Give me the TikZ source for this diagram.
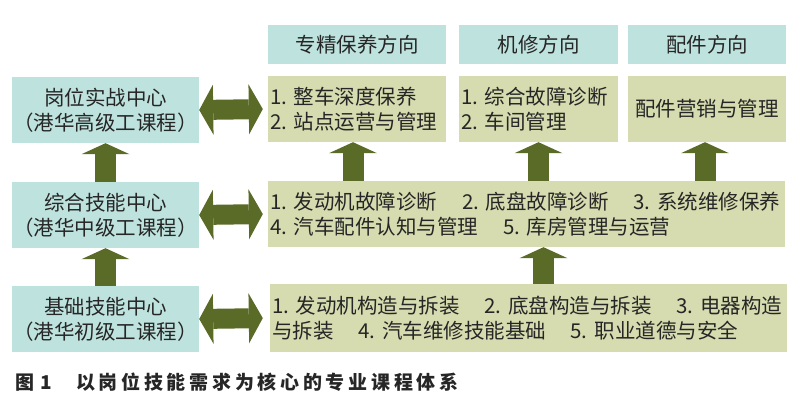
\documentclass[tikz,border=0pt]{standalone}
\usepackage{fontspec}
\setmainfont{Noto Sans CJK SC}
\usetikzlibrary{arrows.meta}
\definecolor{qing}{HTML}{BEE3DE}
\definecolor{ganlan}{HTML}{D6DCAF}
\definecolor{jiantou}{HTML}{5A6A27}
\definecolor{zi}{HTML}{262626}
\tikzset{
  kuang/.style={inner sep=0pt,text=zi,font=\fontsize{20.5}{25}\selectfont\frenchspacing},
  zhongxin/.style={kuang,fill=qing,minimum width=187pt,minimum height=66pt,align=center},
  fangxiang/.style={kuang,fill=qing,minimum height=39pt},
  kecheng/.style={kuang,fill=ganlan,minimum height=66pt,inner xsep=2pt,align=left},
  jt/.tip={Triangle[length=11pt 0 0,width=48pt 0 0,line width=0pt]},
  sjt/.tip={Triangle[length=14pt 0 0,width=50pt 0 0,line width=0pt]},
  shang/.style={jiantou,line width=21pt,-{jt}},
  shuang/.style={jiantou,line width=20pt,{sjt}-{sjt}}
}
\begin{document}
\begin{tikzpicture}[x=1pt,y=-1pt]
\useasboundingbox (0,0) rectangle (800,414);
% left column
\node[zhongxin] (gw) at (105.5,110) {岗位实战中心\\（港华高级工课程）};
\node[zhongxin] (zh) at (105.5,215) {综合技能中心\\（港华中级工课程）};
\node[zhongxin] (jc) at (105.5,319) {基础技能中心\\（港华初级工课程）};
% directions
\node[fangxiang,minimum width=178pt] (fx1) at (357,44.5) {专精保养方向};
\node[fangxiang,minimum width=159pt] (fx2) at (538.5,44.5) {机修方向};
\node[fangxiang,minimum width=158pt] (fx3) at (707,44.5) {配件方向};
% courses
\node[kecheng,text width=174pt] (kc1) at (357,109) {1. 整车深度保养\\2. 站点运营与管理};
\node[kecheng,text width=155pt] (kc2) at (538.5,109) {1. 综合故障诊断\\2. 车间管理};
\node[kecheng,text width=154pt,align=center] (kc3) at (707,109) {配件营销与管理};
\node[kecheng,text width=513pt] (kz) at (526.5,214) {1. 发动机故障诊断\hspace{1.2em}2. 底盘故障诊断\hspace{1.2em}3. 系统维修保养\\4. 汽车配件认知与管理\hspace{1.2em}5. 库房管理与运营};
\node[kecheng,text width=513pt,minimum height=68pt] (kj) at (528.5,318) {1. 发动机构造与拆装\hspace{1.2em}2. 底盘构造与拆装\hspace{1.2em}3. 电器构造\\与拆装\hspace{1.2em}4. 汽车维修技能基础\hspace{1.2em}5. 职业道德与安全};
% arrows
\draw[shang] (zh.north) -- (gw.south);
\draw[shang] (jc.north) -- (zh.south);
\draw[shuang,shorten >=5pt] (gw.east) -- (kc1.west);
\draw[shuang,shorten >=5pt] (zh.east) -- (kz.west);
\draw[shuang,shorten >=7pt] (jc.east) -- (kj.west);
\draw[shang] ([xshift=-4pt]kc1.south |- kz.north) -- ([xshift=-4pt]kc1.south);
\draw[shang] (kc2.south |- kz.north) -- (kc2.south);
\draw[shang] ([xshift=-2pt]kc3.south |- kz.north) -- ([xshift=-2pt]kc3.south);
\draw[shang] ([xshift=5pt]kc2.south |- kj.north) -- ([xshift=5pt]kc2.south |- kz.south);
% caption
\node[anchor=west,inner sep=0pt,text=zi,font=\fontsize{19}{22}\selectfont\bfseries\addfontfeature{LetterSpace=19.5}] (tu) at (15,382) {图\hspace{0.35em}1\hspace{1.25em}以岗位技能需求为核心的专业课程体系};
\end{tikzpicture}
\end{document}
